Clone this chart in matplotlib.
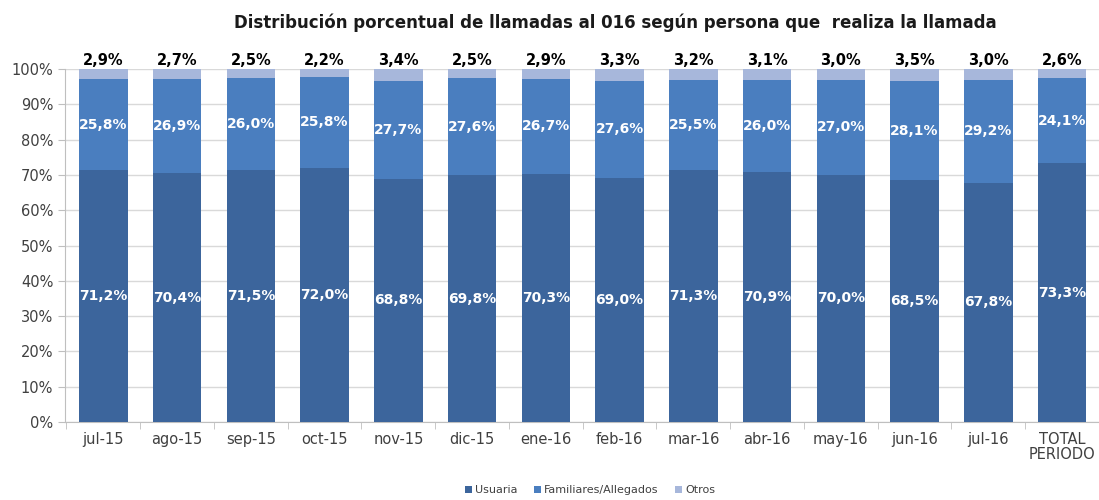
import matplotlib.pyplot as plt
import numpy as np

categorias = ['jul-15', 'ago-15', 'sep-15', 'oct-15', 'nov-15', 'dic-15', 'ene-16',
              'feb-16', 'mar-16', 'abr-16', 'may-16', 'jun-16', 'jul-16', 'TOTAL\nPERIODO']
usuaria = [71.2, 70.4, 71.5, 72.0, 68.8, 69.8, 70.3, 69.0, 71.3, 70.9, 70.0, 68.5, 67.8, 73.3]
familiares = [25.8, 26.9, 26.0, 25.8, 27.7, 27.6, 26.7, 27.6, 25.5, 26.0, 27.0, 28.1, 29.2, 24.1]
otros = [2.9, 2.7, 2.5, 2.2, 3.4, 2.5, 2.9, 3.3, 3.2, 3.1, 3.0, 3.5, 3.0, 2.6]

C_USU = '#3C659C'
C_FAM = '#4A7EBF'
C_OTR = '#A7B7DB'


def fmt(v):
    return f'{v:.1f}%'.replace('.', ',')


fig = plt.figure(figsize=(10.99, 5), dpi=100)
ax = fig.add_axes([65 / 1099, 1 - 422 / 500, 1 - 65 / 1099, (422 - 69) / 500])

x = np.arange(len(categorias))
u = np.array(usuaria)
f = np.array(familiares)
o = np.array(otros)
# Excel normaliza al 100%
tot = u + f + o
un, fn, on = u / tot * 100, f / tot * 100, o / tot * 100

w = 0.66
ax.bar(x, un, w, color=C_USU, label='Usuaria', zorder=3)
ax.bar(x, fn, w, bottom=un, color=C_FAM, label='Familiares/Allegados', zorder=3)
ax.bar(x, on, w, bottom=un + fn, color=C_OTR, label='Otros', zorder=3)

for i in range(len(x)):
    ax.text(x[i], un[i] / 2, fmt(u[i]), ha='center', va='center', color='white',
            fontsize=10, fontweight='bold', zorder=4)
    ax.text(x[i], un[i] + fn[i] / 2, fmt(f[i]), ha='center', va='center', color='white',
            fontsize=10, fontweight='bold', zorder=4)
    ax.text(x[i], 100.3, fmt(o[i]), ha='center', va='bottom', color='black',
            fontsize=10.5, fontweight='bold', zorder=4)

ax.set_ylim(0, 100)
ax.set_xlim(-0.52, 13.5)
ax.set_yticks(np.arange(0, 101, 10))
ax.set_yticklabels([f'{t}%' for t in range(0, 101, 10)])
ax.set_xticks(x)
ax.set_xticklabels(categorias)
ax.set_xticks(np.arange(-0.5, 13.6, 1), minor=True)
ax.tick_params(axis='x', which='major', length=0, labelsize=10.5, colors='#404040', pad=7)
ax.tick_params(axis='x', which='minor', length=5, color='#bfbfbf')
ax.tick_params(axis='y', length=5, color='#bfbfbf', labelsize=10.5, colors='#404040')
for lbl in ax.get_xticklabels():
    lbl.set_linespacing(1.0)

ax.grid(axis='y', color='#d9d9d9', linewidth=1, zorder=0)
for s in ['top', 'right']:
    ax.spines[s].set_visible(False)
ax.spines['left'].set_color('#bfbfbf')
ax.spines['bottom'].set_color('#bfbfbf')

fig.text(0.56, 0.955, 'Distribución porcentual de llamadas al 016 según persona que  realiza la llamada',
         ha='center', va='center', fontsize=12, fontweight='bold', color='#1a1a1a')

fig.legend(loc='center', bbox_to_anchor=(0.537, 0.02), ncol=3, frameon=False,
           fontsize=8, handlelength=0.6, handleheight=0.6, handletextpad=0.3,
           columnspacing=1.5, labelcolor='#404040')

fig.savefig('out.png', dpi=100)
